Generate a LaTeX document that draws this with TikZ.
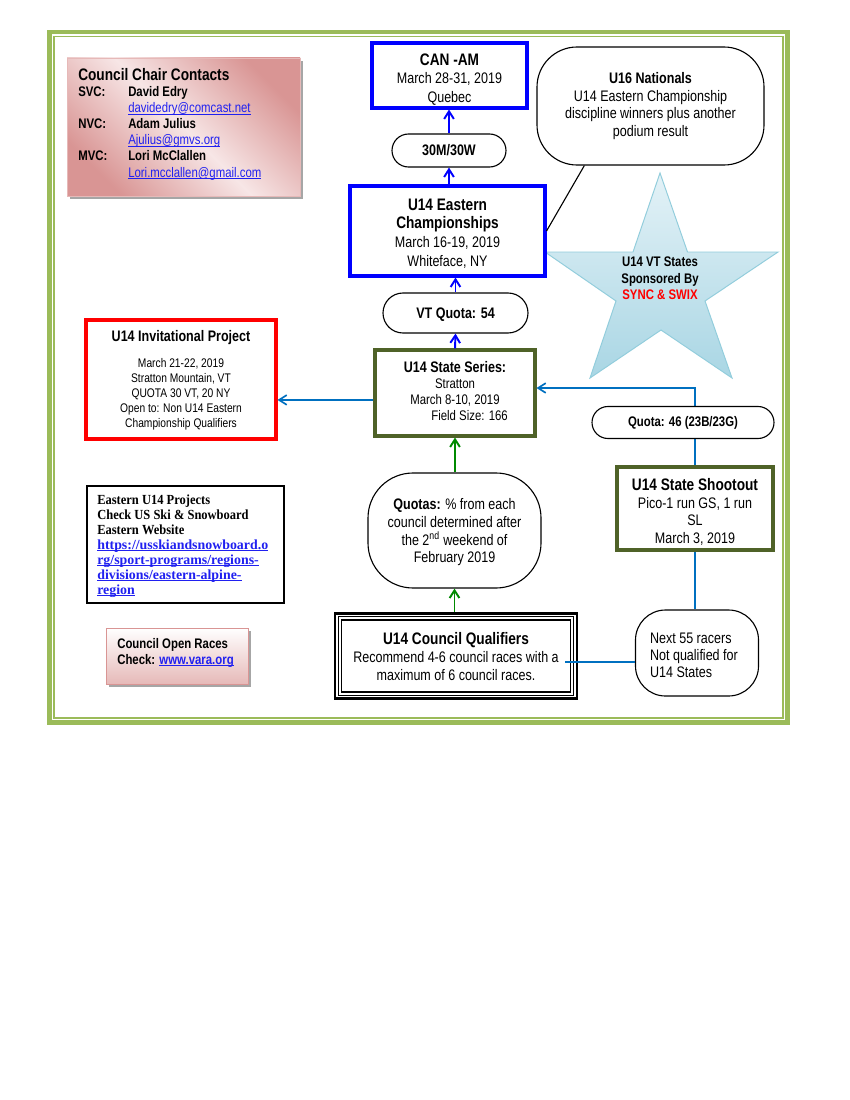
\documentclass[tikz,border=0pt]{standalone}
\usepackage{fontspec}
\setmainfont{Liberation Sans}[FakeStretch=0.82]
\newfontfamily\cambria{Liberation Serif}[FakeStretch=0.9]
\newfontfamily\cambrialink{Liberation Serif}
\usetikzlibrary{arrows.meta,shapes.misc}
\definecolor{frameg}{HTML}{9BBB59}
\definecolor{dkgreen}{HTML}{4F6228}
\definecolor{arrblue}{HTML}{0070C0}
\definecolor{pinkd}{HTML}{D99594}
\definecolor{pinkl}{HTML}{F7E6E6}
\definecolor{pinkb}{HTML}{E6B9B8}
\definecolor{starf}{HTML}{E4F2F7}
\definecolor{stars}{HTML}{A9D6E4}
\definecolor{stard}{HTML}{92CDDC}
\definecolor{shadowg}{HTML}{A6A6A6}
\definecolor{linkb}{HTML}{2020F0}
\definecolor{arrgreen}{HTML}{008A00}
\newcommand\fs[2]{\fontsize{#1}{#2}\selectfont}
\newcommand\lnk[1]{\textcolor{linkb}{\setbox0\hbox{#1}\rlap{\rule[-1.3pt]{\wd0}{0.55pt}}\box0}}
\begin{document}
\begin{tikzpicture}[x=0.72pt,y=-0.72pt,
  sz/.style 2 args={minimum width=#1*0.72pt, minimum height=#2*0.72pt},
  boxbase/.style={inner sep=0pt, align=center},
  txt/.style={inner sep=0pt, align=center},
  bluebox/.style={boxbase, draw=blue, line width=2.2pt, fill=white},
  greenbox/.style={boxbase, draw=dkgreen, line width=2.2pt, fill=white},
  redbox/.style={boxbase, draw=red, line width=2.2pt, fill=white},
  pill/.style={boxbase, draw=black, line width=0.8pt, rounded rectangle, fill=white},
  roundbox/.style={boxbase, draw=black, line width=0.8pt, fill=white, rounded corners=#1*0.72pt},
  barrow/.style={draw=blue, line width=1.4pt, -{Straight Barb[length=5.5pt,width=7pt]}},
  carrow/.style={draw=arrblue, line width=1.2pt, -{Straight Barb[length=5.5pt,width=7pt]}},
  garrow/.style={draw=arrgreen, line width=1.4pt, -{Straight Barb[length=5.5pt,width=7pt]}},
  cline/.style={draw=arrblue, line width=1.2pt},
]
\useasboundingbox (0,0) rectangle (850,1100);
\fill[white] (0,0) rectangle (850,1100);
% frame
\draw[frameg, line width=3.2pt] (49.5,32) rectangle (787.5,722.5);
\draw[frameg, line width=1pt] (54,36.5) rectangle (783,718);

% council chair contacts
\fill[shadowg] (70,61) rectangle (303,199);
\node[boxbase, sz={233}{138}, shading=axis, top color=pinkd, bottom color=pinkd, middle color=pinkl, shading angle=-45, draw=pinkb, line width=0.6pt] (chair) at (183.5,127) {};
\node[anchor=north west, inner sep=0pt, align=left, font=\fs{10}{11.6}] (chairtxt) at (78,68)
 {{\fs{12}{13}\bfseries Council Chair Contacts}\\
  \makebox[36pt][l]{\bfseries SVC:}\textbf{David Edry}\\
  \makebox[36pt][l]{}\lnk{davidedry@comcast.net}\\
  \makebox[36pt][l]{\bfseries NVC:}\textbf{Adam Julius}\\
  \makebox[36pt][l]{}\lnk{Ajulius@gmvs.org}\\
  \makebox[36pt][l]{\bfseries MVC:}\textbf{Lori McClallen}\\
  \makebox[36pt][l]{}\lnk{Lori.mcclallen@gmail.com}};

% star
\draw[stard, line width=0.7pt, top color=starf, bottom color=stars]
  (660,173) -- (687.5,252) -- (778,252) -- (705,301) -- (732,378) -- (661,330)
  -- (590,378) -- (616,301) -- (545,252) -- (633,252) -- cycle;
\node[txt, font=\fs{10}{11.8}\bfseries] (startxt) at (660,278.5)
  {U14 VT States\\Sponsored By\\\textcolor{red}{SYNC \& SWIX}};

% top column
\node[bluebox, sz={155}{65}] (canam) at (449.5,75.5) {};
\node[txt, font=\fs{11}{13.5}] (canamT) at ([yshift=-2.9pt]canam.center)
  {{\fs{12}{14}\bfseries CAN -AM}\\March 28-31, 2019\\Quebec};
\node[pill, sz={114}{33}, font=\fs{11}{13}\bfseries] (p30) at (449,150.5) {30M/30W};
\node[bluebox, sz={195}{90}] (eastern) at (447.5,231) {};
\node[txt, font=\fs{11}{13.4}] (easternT) at ([yshift=-1.8pt]eastern.center)
  {{\fs{12}{13.6}\bfseries U14 Eastern}\\{\fs{12}{13.6}\bfseries Championships}\\March 16-19, 2019\\Whiteface, NY};
\node[roundbox=40, sz={227}{118}, font=\fs{11}{12.7}] (u16) at (650.5,106)
  {{\bfseries U16 Nationals}\\U14 Eastern Championship\\discipline winners plus another\\podium result};
\draw[black, line width=0.8pt] (u16.222) -- (eastern.east);

\node[pill, sz={145}{40}] (vtq) at (455.5,313) {};
\node[txt, font=\fs{11}{13}\bfseries] (vtqT) at ([yshift=-1.4pt]vtq.center) {VT Quota: 54};
\node[greenbox, sz={160}{86}] (series) at (455,393) {};
\node[txt, font=\fs{10}{11.6}] (seriesT) at ([yshift=1.4pt]series.center)
  {{\fs{11}{12}\bfseries U14 State Series:}\\Stratton\\March 8-10, 2019\\\hspace*{21pt}Field Size: 166};

\draw[barrow] (p30.north) -- (p30.north |- canam.south);
\draw[barrow] (eastern.north -| p30.south) -- (p30.south);
\draw[barrow] (vtq.north) -- (vtq.north |- eastern.south);
\draw[barrow] (series.north) -- (vtq.south);

% invitational
\node[redbox, sz={190}{119}] (invit) at (181,379.5) {};
\node[txt, font=\fs{9}{10.9}] (invitT) at ([yshift=-0.7pt]invit.center)
  {{\fs{11}{12}\bfseries U14 Invitational Project}\\[7.6pt]March 21-22, 2019\\Stratton Mountain, VT\\QUOTA 30 VT, 20 NY\\Open to: Non U14 Eastern\\Championship Qualifiers};
\draw[carrow] ([yshift=-5pt]series.west) -- ([yshift=-5pt]series.west -| invit.east);

% shootout branch
\node[greenbox, sz={156}{83}] (shoot) at (695,508.5) {};
\node[txt, font=\fs{11}{12.6}] (shootT) at ([yshift=-2.5pt]shoot.center)
  {{\fs{12}{13}\bfseries U14 State Shootout}\\Pico-1 run GS, 1 run\\SL\\March 3, 2019};
\draw[carrow] (shoot.north) |- ([yshift=3.6pt]series.east);
\node[pill, sz={182}{32}, font=\fs{10}{12}\bfseries] (q46) at (683,422.5) {Quota: 46 (23B/23G)};
\node[roundbox=30, sz={123}{86}] (next55) at (697,653) {};
\node[txt, align=left, font=\fs{11}{12.2}] (next55T) at ([xshift=-2.2pt,yshift=-1.4pt]next55.center)
  {Next 55 racers\\Not qualified for\\U14 States};
\draw[cline] (shoot.south) -- (shoot.south |- next55.north);

% quotas & qualifiers
\node[roundbox=45, sz={173}{115}] (quotas) at (454.5,530.5) {};
\node[txt, font=\fs{11}{12.7}] (quotasT) at ([yshift=-1.4pt]quotas.center)
  {{\bfseries Quotas:} \% from each\\council determined after\\the 2\textsuperscript{nd} weekend of\\February 2019};
\draw[garrow] (quotas.north -| series.south) -- (series.south);

\node[boxbase, draw=black, line width=1.8pt, fill=white, sz={242}{85}] (qual) at (456,656) {};
\draw[black, line width=0.8pt] ([shift={(3.3pt,-3.3pt)}]qual.north west) rectangle ([shift={(-3.3pt,3.3pt)}]qual.south east);
\draw[black, line width=1.1pt] ([shift={(5.6pt,-5.6pt)}]qual.north west) rectangle ([shift={(-5.6pt,5.6pt)}]qual.south east);
\node[txt, font=\fs{11}{12.7}] (qualT) at ([yshift=-0.3pt]qual.center)
  {{\fs{12}{13}\bfseries U14 Council Qualifiers}\\Recommend 4-6 council races with a\\maximum of 6 council races.};
\draw[garrow] (qual.north -| quotas.south) -- (quotas.south);
\coordinate (qstart) at (565,662);
\draw[cline] (qstart) -- (qstart -| next55.west);

% eastern projects
\node[boxbase, draw=black, line width=0.8pt, sz={197}{117}] (proj) at (185.5,544.5) {};
\node[anchor=north west, inner sep=0pt, align=left, font=\cambria\fs{10}{10.8}\bfseries] (projtxt) at (97,494.5)
  {Eastern U14 Projects\\Check US Ski \& Snowboard\\Eastern Website\\
   {\cambrialink\lnk{https://usskiandsnowboard.o}}\\{\cambrialink\lnk{rg/sport-programs/regions-}}\\{\cambrialink\lnk{divisions/eastern-alpine-}}\\{\cambrialink\lnk{region}}};

% council open races
\fill[shadowg] (109,631) rectangle (251,687);
\node[boxbase, sz={142}{56}, top color=white, bottom color=pinkb, draw=pinkd, line width=0.6pt] (open) at (177,656) {};
\node[anchor=north west, inner sep=0pt, align=left, font=\fs{10}{11.5}\bfseries] (opentxt) at (117,638)
  {Council Open Races\\Check: \lnk{www.vara.org}};
\end{tikzpicture}
\end{document}
